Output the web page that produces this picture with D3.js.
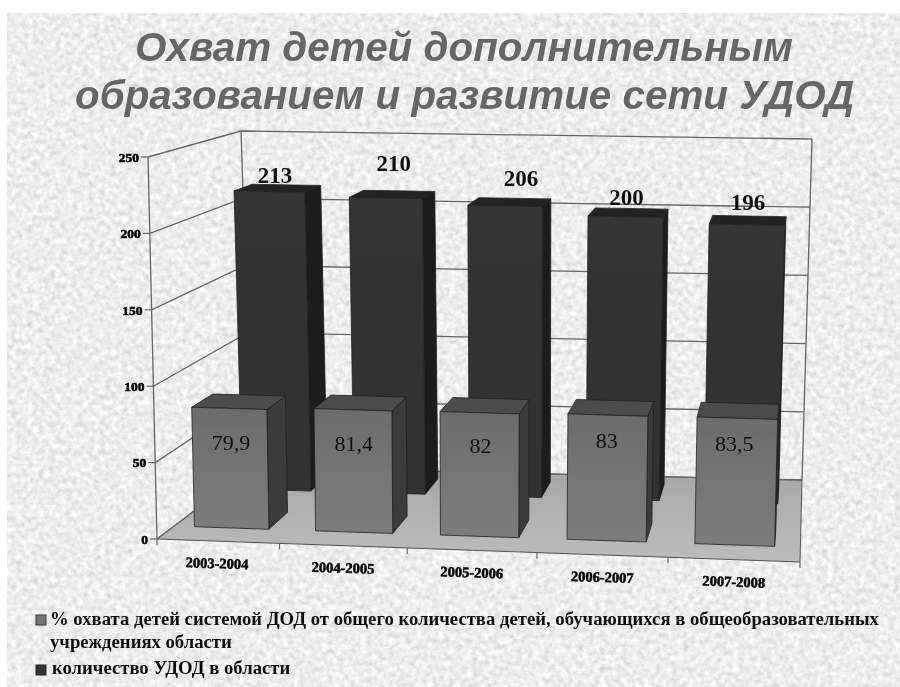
<!DOCTYPE html>
<html>
<head>
<meta charset="utf-8">
<script src="https://cdnjs.cloudflare.com/ajax/libs/d3/7.8.5/d3.min.js"></script>
<style>
  html, body { margin: 0; padding: 0; background: #fff; }
  svg { display: block; }
  text { font-family: "Liberation Serif", serif; }
</style>
</head>
<body>
<div id="chart"></div>
<script>
// values
const years = ['2003-2004', '2004-2005', '2005-2006', '2006-2007', '2007-2008'];
const coverage = [79.9, 81.4, 82, 83, 83.5];
const schools = [213, 210, 206, 200, 196];
const coverageLabels = ['79,9', '81,4', '82', '83', '83,5'];
const schoolLabels = ['213', '210', '206', '200', '196'];
const titleLines = ['Охват детей дополнительным', 'образованием и развитие сети УДОД'];
const legendCoverage = ['% охвата детей системой ДОД от общего количества детей, обучающихся в общеобразовательных', 'учреждениях области'];
const legendSchools = 'количество УДОД в области';

const width = 900, height = 687;

const svgRoot = d3.select('#chart').append('svg')
    .attr('width', width)
    .attr('height', height);

const defs = svgRoot.append('defs');

// marbled paper background
const paper = defs.append('filter').attr('id', 'paper')
    .attr('x', 0).attr('y', 0).attr('width', '100%').attr('height', '100%');
paper.append('feTurbulence')
    .attr('type', 'fractalNoise')
    .attr('baseFrequency', 0.18)
    .attr('numOctaves', 4)
    .attr('seed', 7);
paper.append('feColorMatrix')
    .attr('type', 'matrix')
    .attr('values', '0.42 0.15 0 0 0.56  0.42 0.15 0 0 0.56  0.42 0.15 0 0 0.56  0 0 0 0 1');

// the reference is a soft scan, everything on the slide is a little out of focus
defs.append('filter').attr('id', 'soft')
    .attr('x', 0).attr('y', 0).attr('width', '100%').attr('height', '100%')
    .attr('filterUnits', 'userSpaceOnUse')
  .append('feGaussianBlur').attr('stdDeviation', 0.45);

function gradient(id, stops) {
  const g = defs.append('linearGradient').attr('id', id)
      .attr('x1', 0).attr('y1', 0).attr('x2', 0).attr('y2', 1);
  stops.forEach((c, i) => g.append('stop').attr('offset', i / (stops.length - 1)).attr('stop-color', c));
}
gradient('floorFill', ['#a6a6a6', '#bdbdbd']);
gradient('coverFront', ['#6c6c6c', '#7c7c7c']);
gradient('schoolFront', ['#343434', '#303030']);

svgRoot.append('rect')
    .attr('x', 7).attr('y', 13)
    .attr('width', width - 7).attr('height', height - 13)
    .attr('filter', 'url(#paper)');

const svg = svgRoot.append('g').attr('filter', 'url(#soft)');

// Box of the 3d chart. u runs along the categories, v from front to back, h goes up.
const box = {
  floor: { fl: [157, 539], fr: [800, 562], bl: [252, 467], br: [802, 480] },
  top: { fl: [148, 157], fr: [810, 173], bl: [241, 131], br: [812, 139] }
};

const lerp = (a, b, t) => [a[0] + (b[0] - a[0]) * t, a[1] + (b[1] - a[1]) * t];

function project(u, v, h) {
  const onPlane = p => lerp(lerp(p.fl, p.fr, u), lerp(p.bl, p.br, u), v);
  return lerp(onPlane(box.floor), onPlane(box.top), h);
}

const xScale = d3.scalePow().exponent(1.03).domain([0, years.length]).range([0, 1]);
const yScale = d3.scaleLinear().domain([0, 250]).range([0, 1]);
const ticks = yScale.ticks(5);

const polygon = d3.line().curve(d3.curveLinearClosed);
const segment = d3.line();
const gridColor = '#666';

// floor
svg.append('path')
    .attr('d', polygon([project(0, 0, 0), project(1, 0, 0), project(1, 1, 0), project(0, 1, 0)]))
    .attr('fill', 'url(#floorFill)')
    .attr('stroke', '#555')
    .attr('stroke-width', 1);

// gridlines on the left and back walls
const grid = svg.append('g').attr('fill', 'none').attr('stroke', gridColor).attr('stroke-width', 1.3);
ticks.forEach(t => {
  grid.append('path').attr('d', segment([project(0, 0, yScale(t)), project(0, 1, yScale(t)), project(1, 1, yScale(t))]));
});
[[0, 0], [0, 1], [1, 1]].forEach(([u, v]) => {
  grid.append('path').attr('d', segment([project(u, v, 0), project(u, v, 1)]));
});

// axis ticks
const axis = svg.append('g');
ticks.forEach(t => {
  const p = project(0, 0, yScale(t));
  axis.append('line')
      .attr('x1', p[0] - 7).attr('y1', p[1])
      .attr('x2', p[0]).attr('y2', p[1])
      .attr('stroke', gridColor).attr('stroke-width', 1.2);
  axis.append('text')
      .attr('x', p[0] - 9).attr('y', p[1])
      .attr('dy', '0.35em')
      .attr('text-anchor', 'end')
      .attr('font-size', 13.5).attr('font-weight', 'bold')
      .attr('stroke', '#000').attr('stroke-width', 0.6)
      .text(t);
});
d3.range(years.length + 1).forEach(i => {
  const p = project(xScale(i), 0, 0);
  axis.append('line')
      .attr('x1', p[0]).attr('y1', p[1])
      .attr('x2', p[0]).attr('y2', p[1] + 6)
      .attr('stroke', gridColor).attr('stroke-width', 1.2);
});
years.forEach((d, i) => {
  const p = project(xScale(i + 0.5), 0, 0);
  axis.append('text')
      .attr('transform', `translate(${p[0]},${p[1] + 22}) rotate(2)`)
      .attr('dy', '0.35em')
      .attr('text-anchor', 'middle')
      .attr('font-size', 14.5).attr('font-weight', 'bold')
      .attr('stroke', '#000').attr('stroke-width', 0.5)
      .text(d);
});

// bars sit in the same place inside each category, one row behind the other
const barStart = 0.18, barEnd = 0.8;

function drawRow(values, v0, v1, colors) {
  const row = svg.append('g').attr('stroke', '#222').attr('stroke-width', 0.8).attr('stroke-linejoin', 'round');
  values.forEach((value, i) => {
    const u0 = xScale(i + barStart), u1 = xScale(i + barEnd), h = yScale(value);
    row.append('path').attr('fill', colors.side)
        .attr('d', polygon([project(u1, v0, 0), project(u1, v1, 0), project(u1, v1, h), project(u1, v0, h)]));
    row.append('path').attr('fill', colors.top)
        .attr('d', polygon([project(u0, v0, h), project(u1, v0, h), project(u1, v1, h), project(u0, v1, h)]));
    row.append('path').attr('fill', colors.front)
        .attr('d', polygon([project(u0, v0, 0), project(u1, v0, 0), project(u1, v0, h), project(u0, v0, h)]));
  });
}

drawRow(schools, 0.7, 0.9, { front: 'url(#schoolFront)', side: '#1b1b1b', top: '#242424' });
drawRow(coverage, 0.18, 0.41, { front: 'url(#coverFront)', side: '#3a3a3a', top: '#4c4c4c' });

// value labels were moved by hand on the original slide, so each has its own nudge
const schoolNudge = [[6, -17], [8, -35], [16, -28], [1, -20], [1, -23]];
const coverNudge = [[2, 34], [1, 33], [1, 33], [-1, 25], [-3, 25]];

function drawLabels(values, labels, v, nudge, weight, size) {
  values.forEach((value, i) => {
    const p = project(xScale(i + (barStart + barEnd) / 2), v, yScale(value));
    svg.append('text')
        .attr('x', p[0] + nudge[i][0]).attr('y', p[1] + nudge[i][1])
        .attr('dy', '0.35em')
        .attr('text-anchor', 'middle')
        .attr('font-size', size).attr('font-weight', weight)
        .attr('fill', '#111')
        .text(labels[i]);
  });
}
drawLabels(schools, schoolLabels, 0.7, schoolNudge, 'bold', 23);
drawLabels(coverage, coverageLabels, 0.18, coverNudge, 'normal', 22);

// title
svg.append('g')
    .attr('fill', '#666')
    .attr('font-size', 40.4).attr('font-weight', 'bold').attr('font-style', 'italic')
  .selectAll('text')
    .data(titleLines)
  .join('text')
    .style('font-family', '"Liberation Sans", Arial, sans-serif')
    .attr('x', (d, i) => i ? 75 : 135)
    .attr('y', (d, i) => i ? 109 : 61)
    .text(d => d);

// legend
const legend = svg.append('g')
    .attr('font-size', 18.7).attr('font-weight', 'bold')
    .attr('fill', '#111');
legend.append('rect').attr('x', 36).attr('y', 615).attr('width', 10).attr('height', 10)
    .attr('fill', '#767676').attr('stroke', '#333');
legend.append('rect').attr('x', 36).attr('y', 665).attr('width', 10).attr('height', 10)
    .attr('fill', '#333').attr('stroke', '#222');
legend.append('text').attr('x', 50).attr('y', 625).text(legendCoverage[0]);
legend.append('text').attr('x', 50).attr('y', 648).text(legendCoverage[1]);
legend.append('text').attr('x', 52).attr('y', 674).text(legendSchools);
</script>
</body>
</html>
